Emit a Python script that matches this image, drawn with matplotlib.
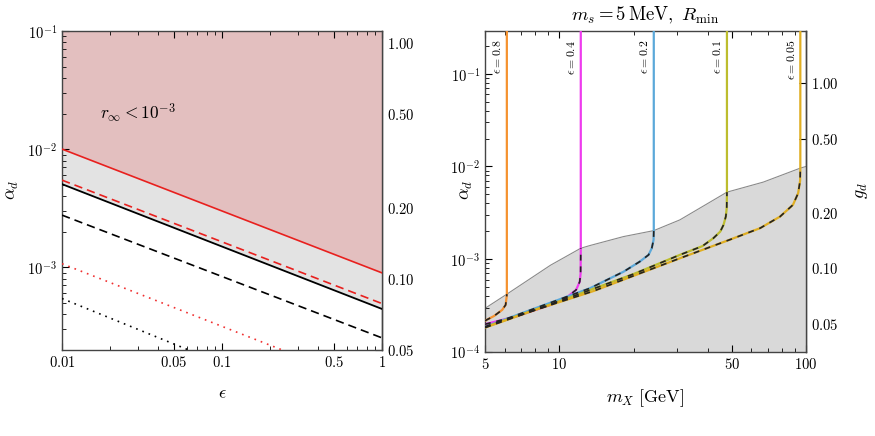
import numpy as np
import matplotlib
matplotlib.use("Agg")
import matplotlib.pyplot as plt
from matplotlib.ticker import FixedLocator, FixedFormatter, LogLocator, NullFormatter, FuncFormatter

plt.rcParams.update({"mathtext.fontset": "cm", "font.family": "serif",
                     "xtick.direction": "in", "ytick.direction": "in",
                     "axes.edgecolor": "#444444", "axes.linewidth": 1.0})

# ---- left panel: alpha_d vs epsilon (straight lines in log-log) ----
EPS_ENDS = [0.01, 1.0]
RED_SOLID = [1.0e-2, 8.95e-4]
RED_DASHED = [5.46e-3, 4.92e-4]
BLACK_SOLID = [5.05e-3, 4.43e-4]
BLACK_DASHED = [2.76e-3, 2.52e-4]
RED_DOTTED = [1.07e-3, 9.3e-5]
BLACK_DOTTED = [5.43e-4, 4.3e-5]
EPS_TICKS = [0.01, 0.05, 0.1, 0.5, 1]
EPS_TICKLABELS = ["0.01", "0.05", "0.1", "0.5", "1"]

# ---- right panel: alpha_d vs m_X for several epsilon ----
EPS_LABELS = ["0.8", "0.4", "0.2", "0.1", "0.05"]
COLORS = ["#F5922F", "#EE3BEE", "#5BA8D9", "#BDBD2E", "#E0AE22"]
M_CUT = [6.13, 12.22, 24.15, 47.8, 94.8]
CURVE_M = [
    [5.0, 5.44, 5.87, 6.06, 6.12, 6.13],
    [5.0, 6.77, 9.22, 10.8, 11.7, 12.1, 12.2, 12.22],
    [5.0, 8.0, 13.3, 18.2, 21.2, 23.0, 23.7, 24.1, 24.15],
    [5.0, 10.0, 20.0, 30.8, 38.0, 42.1, 44.9, 46.3, 47.3, 47.7, 47.8],
    [5.0, 8.0, 13.8, 20.0, 30.8, 48.8, 65.2, 78.5, 88.5, 92.9, 94.6, 94.8],
]
CURVE_A = [
    [2.16e-4, 2.43e-4, 2.83e-4, 3.2e-4, 3.93e-4, 4.18e-4],
    [1.98e-4, 2.43e-4, 3.2e-4, 3.93e-4, 4.65e-4, 5.7e-4, 7.0e-4, 1.31e-3],
    [1.86e-4, 2.95e-4, 4.84e-4, 7.3e-4, 9.4e-4, 1.11e-3, 1.31e-3, 1.61e-3, 2.03e-3],
    [1.84e-4, 3.5e-4, 6.9e-4, 1.11e-3, 1.38e-3, 1.68e-3, 1.98e-3, 2.34e-3, 2.88e-3, 3.55e-3, 5.28e-3],
    [1.82e-4, 2.83e-4, 4.53e-4, 6.6e-4, 1.02e-3, 1.61e-3, 2.16e-3, 2.88e-3, 3.85e-3, 5.15e-3, 7.0e-3, 9.6e-3],
]
BOUND_M = [5.0, 6.13, 9.22, 12.22, 13.3, 18.2, 24.15, 30.8, 47.8, 67.1, 94.8, 100.0]
BOUND_A = [2.94e-4, 4.18e-4, 8.6e-4, 1.31e-3, 1.4e-3, 1.75e-3, 2.03e-3, 2.65e-3, 5.28e-3, 6.78e-3, 9.6e-3, 1.0e-2]
G_TICKS = [0.05, 0.1, 0.2, 0.5, 1.0]

L_YLIM = (0.05 ** 2 / (4 * np.pi), 0.1)
R_YLIM = (1e-4, 0.29)
W, H = 875, 436


def pow10(v, _pos):
    return r"$10^{%d}$" % round(np.log10(v))


def g_axis(ax):
    sec = ax.secondary_yaxis("right", functions=(lambda a: np.sqrt(4 * np.pi * np.clip(a, 1e-12, None)),
                                                 lambda g: g ** 2 / (4 * np.pi)))
    sec.yaxis.set_major_locator(FixedLocator(G_TICKS))
    sec.yaxis.set_major_formatter(FuncFormatter(lambda v, p: r"$%.2f$" % v))
    sec.yaxis.set_minor_locator(FixedLocator([]))
    sec.tick_params(direction="in", labelsize=10.5, length=5)
    return sec


def log_ticks(a, xmaj, xlabels, ymaj):
    a.xaxis.set_major_locator(FixedLocator(xmaj))
    a.xaxis.set_major_formatter(FixedFormatter(["$%s$" % t for t in xlabels]))
    a.xaxis.set_minor_locator(LogLocator(subs=np.arange(2, 10), numticks=20))
    a.xaxis.set_minor_formatter(NullFormatter())
    a.yaxis.set_major_locator(FixedLocator(ymaj))
    a.yaxis.set_major_formatter(FuncFormatter(pow10))
    a.yaxis.set_minor_locator(LogLocator(subs=np.arange(2, 10), numticks=20))
    a.tick_params(which="both", top=True, right=False, labelsize=10.5)
    a.tick_params(which="major", length=5)
    a.tick_params(which="minor", length=3)


def ftext(x, y, s, **kw):
    fig.text(x / W, 1 - y / H, s, ha="center", va="center", **kw)


fig = plt.figure(figsize=(8.75, 4.36), dpi=100)
fig.patch.set_facecolor("white")

# ---------------- left ----------------
ax = fig.add_axes([0.0709, 0.1972, 0.3657, 0.7317])
ax.set_xscale("log")
ax.set_yscale("log")
ax.fill_between(EPS_ENDS, RED_SOLID, [L_YLIM[1]] * 2, color="#E3BFBF", lw=0, zorder=1)
ax.fill_between(EPS_ENDS, BLACK_SOLID, RED_SOLID, color="#E3E3E3", lw=0, zorder=1)
ax.plot(EPS_ENDS, RED_SOLID, color="#E8201E", lw=1.2, zorder=3)
ax.plot(EPS_ENDS, RED_DASHED, color="#E8201E", lw=1.2, ls=(0, (5, 3)), zorder=3)
ax.plot(EPS_ENDS, BLACK_SOLID, color="black", lw=1.3, zorder=3)
ax.plot(EPS_ENDS, BLACK_DASHED, color="black", lw=1.2, ls=(0, (5, 3)), zorder=3)
ax.plot(EPS_ENDS, RED_DOTTED, color="#F03030", lw=1.2, ls=(0, (1, 3)), zorder=3)
ax.plot(EPS_ENDS, BLACK_DOTTED, color="black", lw=1.2, ls=(0, (1, 3)), zorder=3)
ax.set_xlim(0.01, 1)
ax.set_ylim(*L_YLIM)
log_ticks(ax, EPS_TICKS, EPS_TICKLABELS, [1e-3, 1e-2, 1e-1])
ax.text(0.0173, 0.0202, r"$r_\infty < 10^{-3}$", fontsize=12.5, va="center")
g_axis(ax)
ftext(222, 393, r"$\epsilon$", fontsize=13)
ftext(12, 190, r"$\alpha_d$", fontsize=13, rotation=90)

# ---------------- right ----------------
bx = fig.add_axes([0.5543, 0.1933, 0.3669, 0.7356])
bx.set_xscale("log")
bx.set_yscale("log")
bx.fill_between(BOUND_M, [R_YLIM[0]] * len(BOUND_M), BOUND_A, color="#D9D9D9", lw=0, zorder=1)
bx.plot(BOUND_M, BOUND_A, color="#8A8A8A", lw=0.8, zorder=2)
for lab, col, mc, ms, al in zip(EPS_LABELS, COLORS, M_CUT, CURVE_M, CURVE_A):
    bx.plot(ms + [mc], al + [R_YLIM[1]], color=col, lw=1.6, zorder=3)
    bx.plot(ms, al, color="#222222", lw=1.2, ls=(0, (3.5, 3.5)), zorder=4)
    bx.text(mc / 1.025, 0.234, r"$\epsilon = %s$" % lab, rotation=90, ha="right", va="top",
            fontsize=8.5, zorder=5)
bx.set_xlim(5, 100)
bx.set_ylim(*R_YLIM)
log_ticks(bx, [5, 10, 50, 100], ["5", "10", "50", "100"], [1e-4, 1e-3, 1e-2, 1e-1])
g_axis(bx)
ftext(645, 15, r"$m_s = 5\,\mathrm{MeV},\ R_{\min}$", fontsize=13.5)
ftext(645, 398, r"$m_X\ [\mathrm{GeV}]$", fontsize=13)
ftext(466, 190, r"$\alpha_d$", fontsize=13, rotation=90)
ftext(861, 190, r"$g_d$", fontsize=13, rotation=90)

fig.savefig("out.png", dpi=100, facecolor="white")
